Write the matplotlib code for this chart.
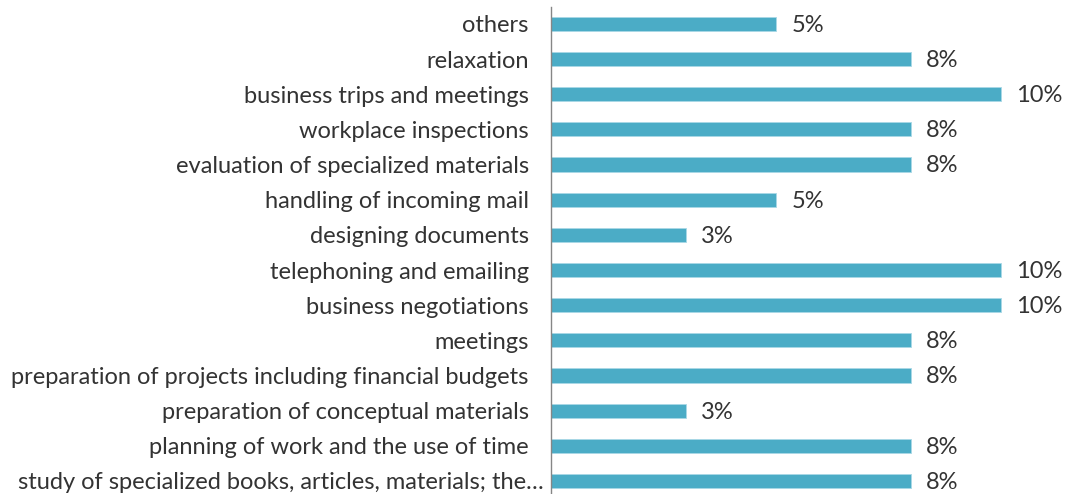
import matplotlib.pyplot as plt
from matplotlib.transforms import ScaledTranslation

categories = [
    "others",
    "relaxation",
    "business trips and meetings",
    "workplace inspections",
    "evaluation of specialized materials",
    "handling of incoming mail",
    "designing documents",
    "telephoning and emailing",
    "business negotiations",
    "meetings",
    "preparation of projects including financial budgets",
    "preparation of conceptual materials",
    "planning of work and the use of time",
    "study of specialized books, articles, materials; the\u2026",
]
shares = [5, 8, 10, 8, 8, 5, 3, 10, 10, 8, 8, 3, 8, 8]

plt.rcParams["font.family"] = ["Lato", "DejaVu Sans"]

fig = plt.figure(figsize=(10.65, 4.94), dpi=100)
ax = fig.add_axes([551 / 1065, 0.0, 1 - 551 / 1065, 1 - 7 / 494])

bars = ax.barh(range(len(categories)), shares, height=0.4, color="#4BACC6",
               edgecolor="#A9D8E6", linewidth=0.6)
vals = ax.bar_label(bars, labels=[f"{v}%" for v in shares], padding=11,
                    fontsize=17, color="#333333")
for t in vals:
    t.xyann = (11, -1)

ax.set_yticks(range(len(categories)))
ax.set_yticklabels(categories, fontsize=17, color="#333333")
ax.tick_params(axis="y", length=0, pad=16)
ax.set_xticks([])
ax.set_xlim(0, (1065 - 551) / 45)
ax.set_ylim(13.37, -0.48)

# the truncated last label sticks out past the others, as in the original
last = ax.get_yticklabels()[-1]
last.set_transform(last.get_transform() + ScaledTranslation(11 / 72, 0, fig.dpi_scale_trans))

for side in ("top", "right", "bottom"):
    ax.spines[side].set_visible(False)
ax.spines["left"].set_color("#868686")
ax.spines["left"].set_linewidth(1)

fig.savefig("out.png", dpi=100)
